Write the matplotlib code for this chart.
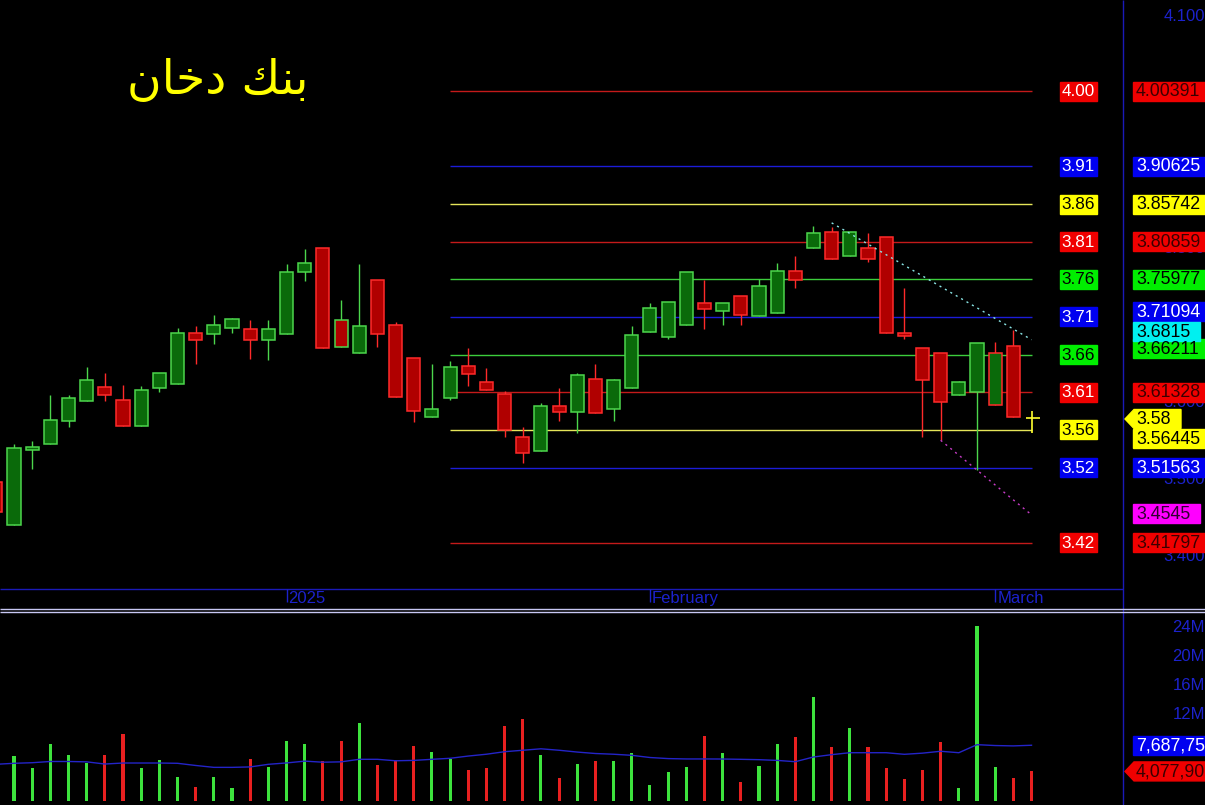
import matplotlib
matplotlib.use('Agg')
import matplotlib.pyplot as plt
import numpy as np
from matplotlib.patches import Rectangle, Polygon

# ---------------- data ----------------
idx = list(range(-1, 57))
opens = [3.4966, 3.4417, 3.5382, 3.5459, 3.5765, 3.6017, 3.6198, 3.6029, 3.5700, 3.6194,
         3.6245, 3.6898, 3.6893, 3.6963, 3.6954, 3.6807, 3.6885, 3.7689, 3.8000, 3.7066,
         3.6647, 3.7585, 3.7002, 3.6574, 3.5809, 3.6055, 3.6474, 3.6263, 3.6111, 3.5550,
         3.5368, 3.5952, 3.5882, 3.6302, 3.5913, 3.6185, 3.6911, 3.6854, 3.7002, 3.7287,
         3.7183, 3.7378, 3.7118, 3.7165, 3.7702, 3.8000, 3.8207, 3.7896, 3.8000, 3.8143,
         3.6898, 3.6703, 3.6639, 3.6094, 3.6133, 3.5970, 3.6730, 3.5813]
highs = [3.4966, 3.5463, 3.5502, 3.6102, 3.6102, 3.6465, 3.6380, 3.6228, 3.6215, 3.6380,
         3.6963, 3.6993, 3.7135, 3.7096, 3.7066, 3.7070, 3.7797, 3.7991, 3.8000, 3.7330,
         3.7797, 3.7585, 3.7041, 3.6574, 3.6496, 3.6539, 3.6704, 3.6448, 3.6150, 3.5687,
         3.5995, 3.6193, 3.6380, 3.6504, 3.6302, 3.6993, 3.7291, 3.7300, 3.7689, 3.7589,
         3.7287, 3.7378, 3.7598, 3.7814, 3.7896, 3.8293, 3.8280, 3.8207, 3.8194, 3.8143,
         3.7481, 3.6703, 3.6639, 3.6284, 3.6768, 3.6789, 3.6941, 3.5895]
lows = [3.4585, 3.4417, 3.5143, 3.5459, 3.5687, 3.6017, 3.6024, 3.5700, 3.5700, 3.6141,
        3.6245, 3.6500, 3.6763, 3.6898, 3.6561, 3.6552, 3.6885, 3.7580, 3.6703, 3.6724,
        3.6647, 3.6724, 3.6076, 3.5752, 3.5809, 3.6034, 3.6219, 3.6167, 3.5558, 3.5213,
        3.5368, 3.5761, 3.5602, 3.5861, 3.5757, 3.6185, 3.6911, 3.6820, 3.7002, 3.6958,
        3.7006, 3.7002, 3.7118, 3.7165, 3.7481, 3.8000, 3.7857, 3.7896, 3.7826, 3.6898,
        3.6820, 3.5558, 3.5511, 3.6094, 3.5126, 3.5970, 3.5809, 3.5602]
closes = [3.4585, 3.5410, 3.5425, 3.5770, 3.6055, 3.6289, 3.6094, 3.5700, 3.6159, 3.6380,
          3.6898, 3.6807, 3.7002, 3.7080, 3.6807, 3.6950, 3.7689, 3.7806, 3.6703, 3.6724,
          3.6989, 3.6893, 3.6076, 3.5895, 3.5913, 3.6457, 3.6374, 3.6167, 3.5644, 3.5342,
          3.5952, 3.5882, 3.6354, 3.5861, 3.6289, 3.6872, 3.7222, 3.7300, 3.7689, 3.7209,
          3.7287, 3.7131, 3.7507, 3.7702, 3.7593, 3.8194, 3.7857, 3.8207, 3.7857, 3.6898,
          3.6859, 3.6289, 3.6004, 3.6263, 3.6768, 3.6648, 3.5809, 3.5800]
# volume in millions (bar -1 is outside the visible area)
volume = [np.nan, 6.2, 4.5, 7.9, 6.3, 5.2, 6.3, 9.2, 4.5, 5.6, 3.3, 1.9, 3.3, 1.75, 5.8, 4.7,
          8.3, 7.9, 5.5, 8.3, 10.8, 4.9, 5.6, 7.6, 6.8, 5.8, 4.3, 4.55, 10.4, 11.3, 6.3,
          3.2, 5.1, 5.5, 5.5, 6.6, 2.2, 4.0, 4.7, 9.0, 6.6, 2.6, 4.8, 7.9, 8.8, 14.3, 7.4,
          10.1, 7.4, 4.5, 3.0, 4.3, 8.1, 1.8, 24.1, 4.7, 3.2, 4.08]
vol_ma = [5.06, 5.2, 5.28, 5.45, 5.45, 5.4, 5.1, 5.24, 5.24, 5.24, 5.2, 4.9, 4.64, 4.64,
          4.7, 5.06, 5.25, 5.5, 5.35, 5.4, 5.75, 5.75, 5.55, 5.6, 5.75, 5.89, 6.2, 6.45,
          6.8, 7.0, 7.2, 7.0, 6.75, 6.55, 6.45, 6.3, 6.0, 5.85, 5.8, 5.8, 5.79, 5.75, 5.7,
          5.6, 5.42, 6.07, 6.39, 6.66, 6.66, 6.66, 6.44, 6.6, 6.86, 6.66, 7.77, 7.65, 7.6, 7.69]

fib_levels = [4.00391, 3.90625, 3.85742, 3.80859, 3.75977, 3.71094, 3.66211, 3.61328,
              3.56445, 3.51563, 3.41797]
fib_short = ["4.00", "3.91", "3.86", "3.81", "3.76", "3.71", "3.66", "3.61", "3.56", "3.52", "3.42"]
fib_long = ["4.00391", "3.90625", "3.85742", "3.80859", "3.75977", "3.71094", "3.66211",
            "3.61328", "3.56445", "3.51563", "3.41797"]
fib_kind = ["r", "b", "y", "r", "g", "b", "g", "r", "y", "b", "r"]
fib_start, fib_end = 24, 56

trend1_x = [45, 56]
trend1_y = [3.833, 3.6815]
trend2_x = [51, 56]
trend2_y = [3.5511, 3.4545]

last_price = 3.58
last_price_label = "3.58"
vol_ma_label = "7,687,75"
vol_last_label = "4,077,90"

# axis labels that stay visible (the others sit behind the level boxes)
price_ticks = [4.1, 3.8, 3.6, 3.5, 3.4]
vol_ticks = [24, 20, 16, 12]
date_pos = [15, 35, 54]
date_labels = ["2025", "February", "March"]

title_visual = "\uFEE5\uFE8E\uFEA7\uFEA9 \uFEDA\uFEE8\uFE91"  # "بنك دخان" in shaped visual order

# ---------------- layout ----------------
W, H = 1205, 805
fig = plt.figure(figsize=(W / 100, H / 100), dpi=100, facecolor='black')

def fr(x0, y0, x1, y1):
    return [x0 / W, 1 - y1 / H, (x1 - x0) / W, (y1 - y0) / H]

ax = fig.add_axes(fr(0, 0, 1122, 588))
axv = fig.add_axes(fr(0, 612, 1122, 805))
for a in (ax, axv):
    a.set_facecolor('black')
    a.set_axis_off()

XL = (-0.77, 60.98)
ax.set_xlim(*XL)
ax.set_ylim(3.3596, 4.1219)
axv.set_xlim(*XL)
axv.set_ylim(-0.552, 26.07)

GREEN_BODY, GREEN_EDGE = '#0a6a0a', '#4cd64c'
RED_BODY, RED_EDGE = '#b00000', '#ff2a2a'
line_col = {"r": '#c41a1a', "b": '#1c1cd8', "y": '#e6e65a', "g": '#3ccd3c'}
box_col = {"r": '#f00000', "b": '#0000f0', "y": '#ffff00', "g": '#00ee00'}
in_txt = {"r": 'white', "b": 'white', "y": 'black', "g": 'black'}
ax_txt = {"r": '#3a0000', "b": 'white', "y": 'black', "g": 'black'}

# candles
for k, i in enumerate(idx[:-1]):
    o, h, l, c = opens[k], highs[k], lows[k], closes[k]
    prev_c = closes[k - 1] if k > 0 else o
    edge = GREEN_EDGE if c >= prev_c else RED_EDGE
    body = GREEN_BODY if c >= o else RED_BODY
    ax.vlines(i, l, h, color=edge, lw=1.0, zorder=3)
    ax.bar(i, max(abs(c - o), 0.0015), bottom=min(o, c), width=0.72, color=body,
           edgecolor=edge, linewidth=1.1, zorder=4)
# last bar as yellow cross
ax.vlines(idx[-1], lows[-1], highs[-1], color='#ffff30', lw=1.2, zorder=5)
ax.hlines(closes[-1], idx[-1] - 0.3, idx[-1] + 0.45, color='#ffff30', lw=1.2, zorder=5)

# fib levels
for v, kd in zip(fib_levels, fib_kind):
    ax.hlines(v, fib_start, fib_end, color=line_col[kd], lw=1.0, zorder=2)

# trend lines
ax.plot(trend1_x, trend1_y, color='#8ae6e6', lw=1.0, ls=(0, (1.5, 3)), zorder=6)
ax.plot(trend2_x, trend2_y, color='#c83cc8', lw=1.0, ls=(0, (1.5, 3)), zorder=6)

# volume
vcols = ['#3de33d' if c >= o else '#e82020' for o, c in zip(opens, closes)]
axv.bar(idx, volume, width=0.17, color=vcols, zorder=3)
axv.plot(idx, vol_ma, color='#2424c8', lw=1.0, zorder=4)

# ---------------- overlay (pixel coordinates) ----------------
ov = fig.add_axes([0, 0, 1, 1])
ov.set_xlim(0, W)
ov.set_ylim(H, 0)
ov.set_axis_off()
ov.patch.set_alpha(0)

def py(val, a=ax):
    return H - a.transData.transform((0, val))[1]

def px(i, a=ax):
    return a.transData.transform((i, 0))[0]

FONT = 'Liberation Sans'
AXBLUE = '#1c22cc'

# frame lines
ov.vlines(1122.5, 0, H, color='#1a1ab8', lw=1.0)
ov.hlines(588.5, 0, 1122.5, color='#1a1ab8', lw=1.0)
ov.hlines([609.0, 611.5], 0, W, color='#c8c8f4', lw=1.0)

# title
ov.text(218, 82, title_visual, color='#ffff00', fontsize=34, ha='center', va='center',
        family=['DejaVu Sans'])

# date labels
for d, lab in zip(date_pos, date_labels):
    x = px(d)
    ov.vlines(x, 589, 602, color=AXBLUE, lw=1.0)
    ov.text(x + 2, 598.5, lab, color=AXBLUE, fontsize=12, ha='left', va='center', family=FONT)

# price tick labels (right axis)
for t in price_ticks:
    ov.text(1205, py(t), "%.3f" % t, color=AXBLUE, fontsize=12, ha='right', va='center',
            family=FONT, zorder=1)

# volume tick labels
for t in vol_ticks:
    ov.text(1205, py(t, axv), "%dM" % t, color=AXBLUE, fontsize=12, ha='right',
            va='center', family=FONT)

BH = 19

# in-plot level labels
for v, s, kd in zip(fib_levels, fib_short, fib_kind):
    y = py(v)
    ov.add_patch(Rectangle((1060, y - BH / 2), 37, BH, color=box_col[kd], zorder=5))
    ov.text(1078.5, y + 0.5, s, color=in_txt[kd], fontsize=12.3, ha='center', va='center',
            family=FONT, zorder=6)

# right-axis boxes (with small shifts to avoid overlaps)
shift = {"3.71094": -5, "3.66211": -6, "3.56445": 9}
for v, s, kd in zip(fib_levels, fib_long, fib_kind):
    y = py(v) + shift.get(s, 0)
    ov.add_patch(Rectangle((1133, y - BH / 2), 80, BH, color=box_col[kd], zorder=5))
    ov.text(1136, y + 0.5, s, color=ax_txt[kd], fontsize=12.8, ha='left', va='center',
            family=FONT, zorder=6)

# trendline end values
y = py(trend1_y[-1]) - 8
ov.add_patch(Rectangle((1133, y - BH / 2), 67, BH, color='#00f0f0', zorder=5))
ov.text(1136, y + 0.5, "%.4f" % trend1_y[-1], color='black', fontsize=12.8, ha='left',
        va='center', family=FONT, zorder=6)
y = py(trend2_y[-1]) - 1
ov.add_patch(Rectangle((1133, y - BH / 2), 67, BH, color='#ff00ff', zorder=5))
ov.text(1136, y + 0.5, "%.4f" % trend2_y[-1], color='#300030', fontsize=12.8, ha='left',
        va='center', family=FONT, zorder=6)

# last price arrow
y = py(last_price) + 1
ov.add_patch(Polygon([(1125, y), (1134, y - BH / 2), (1181, y - BH / 2), (1181, y + BH / 2),
                      (1134, y + BH / 2)], closed=True, color='#ffff00', zorder=7))
ov.text(1136, y + 0.5, last_price_label, color='black', fontsize=12.8, ha='left',
        va='center', family=FONT, zorder=8)

# volume labels
y = py(vol_ma[-1], axv)
ov.add_patch(Rectangle((1133, y - BH / 2), 80, BH, color='#0000f0', zorder=5))
ov.text(1136, y + 0.5, vol_ma_label, color='white', fontsize=12.8, ha='left', va='center',
        family=FONT, zorder=6)
y = py(volume[-1], axv)
ov.add_patch(Polygon([(1125, y), (1134, y - BH / 2), (1210, y - BH / 2), (1210, y + BH / 2),
                      (1134, y + BH / 2)], closed=True, color='#f00000', zorder=5))
ov.text(1136, y + 0.5, vol_last_label, color='#3a0000', fontsize=12.8, ha='left',
        va='center', family=FONT, zorder=6)

fig.savefig('out.png', dpi=100, facecolor='black')
